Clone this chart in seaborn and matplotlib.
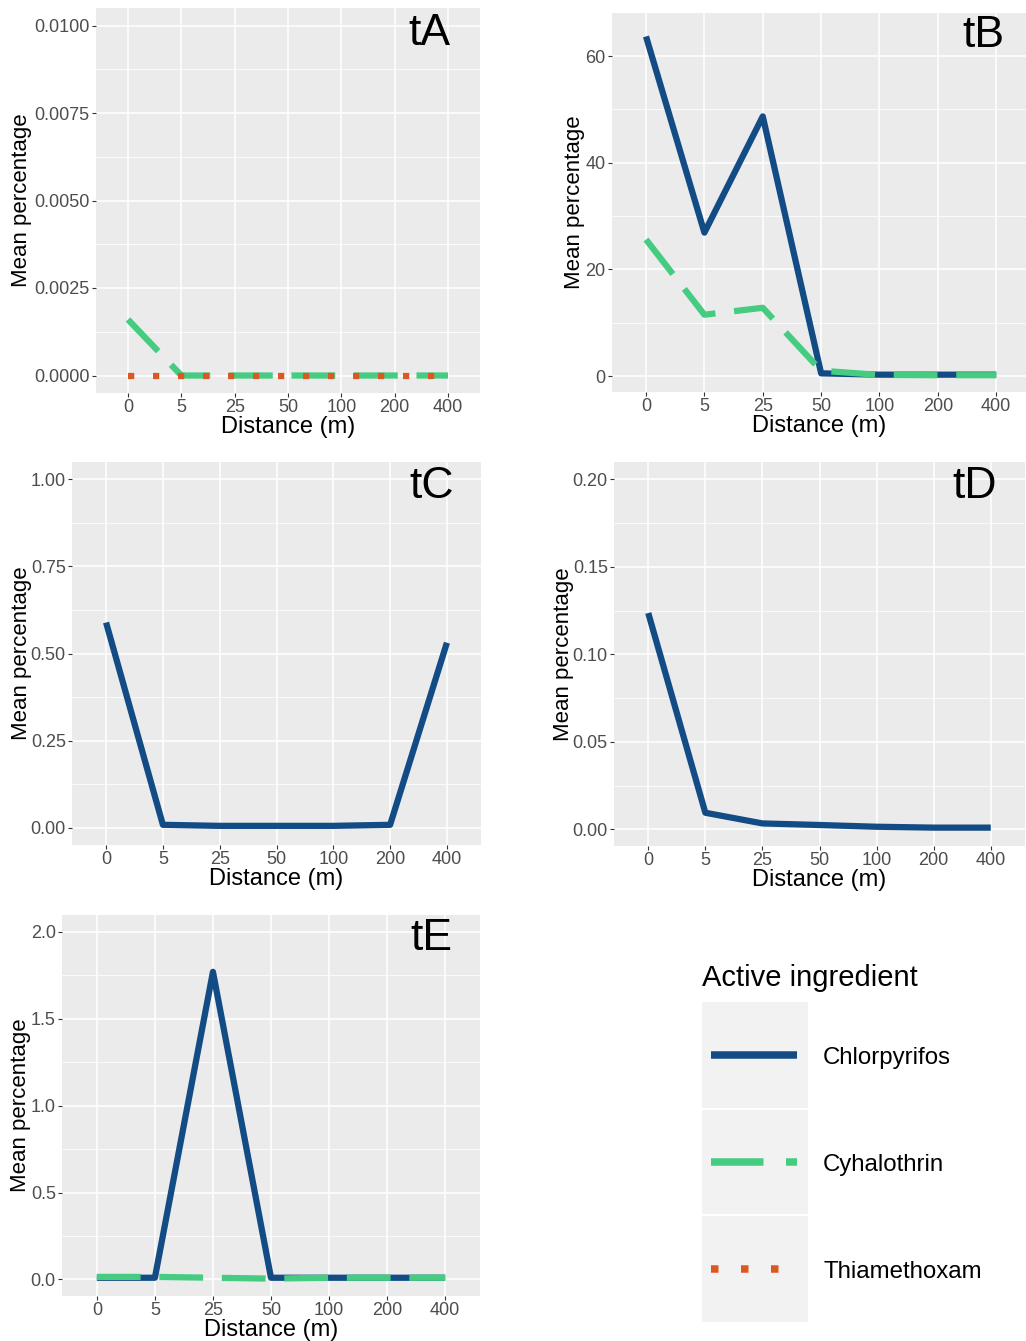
import numpy as np
import pandas as pd
import matplotlib
matplotlib.use("Agg")
import matplotlib.pyplot as plt
import seaborn as sns
from matplotlib.ticker import FixedLocator, MultipleLocator
from matplotlib.lines import Line2D

# ---------------- data ----------------
distances = ["0", "5", "25", "50", "100", "200", "400"]
ingredients = ["Chlorpyrifos", "Cyhalothrin", "Thiamethoxam"]
ingredient_colors = ["#134B85", "#45CC80", "#DC5822"]

tA_cyhalothrin = [0.0016, 0.0, 0.0, 0.0, 0.0, 0.0, 0.0]
tA_thiamethoxam = [0.0, 0.0, 0.0, 0.0, 0.0, 0.0, 0.0]

tB_chlorpyrifos = [63.7, 26.9, 48.7, 0.5, 0.25, 0.25, 0.25]
tB_cyhalothrin = [25.6, 11.5, 12.8, 1.0, 0.2, 0.15, 0.15]

tC_chlorpyrifos = [0.589, 0.008, 0.005, 0.005, 0.005, 0.008, 0.531]

tD_chlorpyrifos = [0.1236, 0.0095, 0.0034, 0.0025, 0.0015, 0.0010, 0.0010]

tE_chlorpyrifos = [0.01, 0.01, 1.77, 0.01, 0.01, 0.01, 0.01]
tE_cyhalothrin = [0.015, 0.015, 0.01, 0.005, 0.01, 0.01, 0.01]

tA_yticks = [0.0, 0.0025, 0.005, 0.0075, 0.01]
tA_yticklabels = ["0.0000", "0.0025", "0.0050", "0.0075", "0.0100"]
tB_yticks = [0, 20, 40, 60]
tB_yticklabels = ["0", "20", "40", "60"]
tC_yticks = [0.0, 0.25, 0.5, 0.75, 1.0]
tC_yticklabels = ["0.00", "0.25", "0.50", "0.75", "1.00"]
tD_yticks = [0.0, 0.05, 0.10, 0.15, 0.20]
tD_yticklabels = ["0.00", "0.05", "0.10", "0.15", "0.20"]
tE_yticks = [0.0, 0.5, 1.0, 1.5, 2.0]
tE_yticklabels = ["0.0", "0.5", "1.0", "1.5", "2.0"]

panel_series = {
    "tA": {"Cyhalothrin": tA_cyhalothrin, "Thiamethoxam": tA_thiamethoxam},
    "tB": {"Chlorpyrifos": tB_chlorpyrifos, "Cyhalothrin": tB_cyhalothrin},
    "tC": {"Chlorpyrifos": tC_chlorpyrifos},
    "tD": {"Chlorpyrifos": tD_chlorpyrifos},
    "tE": {"Chlorpyrifos": tE_chlorpyrifos, "Cyhalothrin": tE_cyhalothrin},
}
panel_ticks = {
    "tA": (tA_yticks, tA_yticklabels),
    "tB": (tB_yticks, tB_yticklabels),
    "tC": (tC_yticks, tC_yticklabels),
    "tD": (tD_yticks, tD_yticklabels),
    "tE": (tE_yticks, tE_yticklabels),
}

# ---------------- layout / style ----------------
W, H = 1026, 1341
# pixel boxes: left, right, top, bottom
layout = {
    "tA": dict(box=(96, 480, 8, 393), ylim=(-0.0005, 0.0105), xlim=(-0.6, 6.6),
               lab=(0.922, 0.905), ylab_x=32),
    "tB": dict(box=(612, 1026, 13, 392), ylim=(-3.0, 68.1), xlim=(-0.583, 6.51),
               lab=(0.947, 0.91), ylab_x=585),
    "tC": dict(box=(72, 481, 462, 845), ylim=(-0.05, 1.05), xlim=(-0.6, 6.6),
               lab=(0.933, 0.906), ylab_x=32),
    "tD": dict(box=(614, 1025, 462, 846), ylim=(-0.0095, 0.2099), xlim=(-0.6, 6.6),
               lab=(0.932, 0.906), ylab_x=574),
    "tE": dict(box=(62, 480, 915, 1296), ylim=(-0.095, 2.097), xlim=(-0.6, 6.6),
               lab=(0.933, 0.908), ylab_x=31),
}

sns.set_theme(style="darkgrid")
plt.rcParams["font.family"] = ["Liberation Sans", "DejaVu Sans"]

palette = dict(zip(ingredients, ingredient_colors))
dash_map = {"Chlorpyrifos": "", "Cyhalothrin": (7, 3), "Thiamethoxam": (1, 3)}
LW = 4.5

fig = plt.figure(figsize=(W / 100, H / 100), dpi=100)
fig.patch.set_facecolor("white")

for name, series in panel_series.items():
    L = layout[name]
    l, r, t, b = L["box"]
    ax = fig.add_axes([l / W, 1 - b / H, (r - l) / W, (b - t) / H])
    ax.set_facecolor("#EBEBEB")

    rows = []
    for ing in ingredients:
        if ing in series:
            for i, (d, v) in enumerate(zip(distances, series[ing])):
                rows.append({"pos": i, "Distance": d, "value": v, "Active ingredient": ing})
    df = pd.DataFrame(rows)
    present = [i for i in ingredients if i in series]

    sns.lineplot(data=df, x="pos", y="value", hue="Active ingredient",
                 style="Active ingredient", hue_order=present, style_order=present,
                 palette=palette, dashes={k: dash_map[k] for k in present},
                 linewidth=LW, legend=False, ax=ax, sort=False,
                 solid_capstyle="butt", dash_capstyle="butt", zorder=3)

    yt, ytl = panel_ticks[name]
    ax.set_xlim(*L["xlim"])
    ax.set_ylim(*L["ylim"])
    ax.xaxis.set_major_locator(FixedLocator(range(len(distances))))
    ax.set_xticklabels(distances)
    ax.yaxis.set_major_locator(FixedLocator(yt))
    ax.set_yticklabels(ytl)
    step = yt[1] - yt[0]
    ax.yaxis.set_minor_locator(MultipleLocator(step / 2))

    ax.grid(False)
    ax.grid(True, which="major", axis="both", color="white", linewidth=1.1, zorder=0)
    ax.grid(True, which="minor", axis="y", color="white", linewidth=0.55, zorder=0)
    ax.set_axisbelow(True)
    for s in ax.spines.values():
        s.set_visible(False)

    ax.tick_params(axis="both", which="major", length=3, width=0.8, color="#333333",
                   labelsize=13, labelcolor="#4D4D4D", pad=1.5,
                   bottom=True, left=True)
    ax.tick_params(axis="both", which="minor", length=0)

    ax.set_xlabel("Distance (m)", fontsize=17, color="black", labelpad=0)
    ax.set_ylabel("Mean percentage", fontsize=16, color="black")
    ax.yaxis.set_label_coords(L["ylab_x"] / W, 1 - ((t + b) / 2) / H, transform=fig.transFigure)
    ax.yaxis.label.set_va("bottom")

    ax.text(L["lab"][0], L["lab"][1], name, transform=ax.transAxes,
            ha="right", va="baseline", fontsize=32, color="black")

# ---------------- legend ----------------
lx0, lx1, ly0, ly1 = 702, 808, 1002, 1322
lax = fig.add_axes([lx0 / W, 1 - ly1 / H, (lx1 - lx0) / W, (ly1 - ly0) / H])
lax.set_facecolor("#F2F2F2")
lax.set_xlim(0, 1)
lax.set_ylim(0, 3)
lax.set_xticks([])
lax.set_yticks([])
for s in lax.spines.values():
    s.set_visible(False)
lax.grid(False)
for yy in (1, 2):
    lax.axhline(yy, color="white", linewidth=1.5)
for k, (ing, col) in enumerate(zip(ingredients, ingredient_colors)):
    yc = 2.5 - k
    ls = "-" if dash_map[ing] == "" else (0, dash_map[ing])
    lax.add_line(Line2D([9 / 106, 95 / 106], [yc, yc], color=col, linewidth=5.4,
                        linestyle=ls, solid_capstyle="butt", dash_capstyle="butt"))
    ypix = ly0 + (k + 0.5) * (ly1 - ly0) / 3 + 9
    fig.text(823 / W, 1 - ypix / H, ing, fontsize=17.3, color="black",
             ha="left", va="baseline")

fig.text(702 / W, 1 - 986 / H, "Active ingredient", fontsize=21, color="black",
         ha="left", va="baseline")

fig.savefig("out.png", dpi=100, facecolor="white")
